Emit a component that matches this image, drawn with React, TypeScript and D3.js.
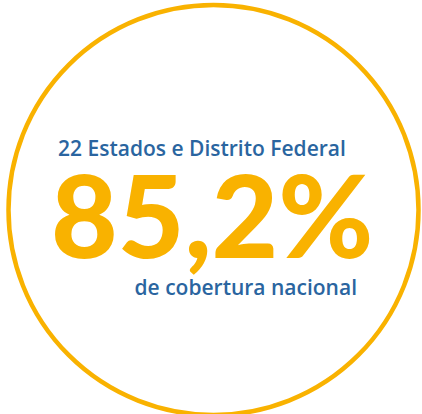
import React, { useEffect, useRef } from "react";
import * as d3 from "d3";

// valores
const coverage = [85.2];
const topLabels = ["22 Estados e Distrito Federal"];
const bottomLabels = ["de cobertura nacional"];

const YELLOW = "#F9B200";
const BLUE = "#2A65A0";

export default function App() {
  const svgRef = useRef<SVGSVGElement>(null);

  useEffect(() => {
    const width = 422;
    const height = 414;

    d3.select(svgRef.current).selectAll("*").remove();

    const svg = d3.select(svgRef.current)
      .attr("width", width)
      .attr("height", height)
      .style("position", "absolute")
      .style("left", "0px")
      .style("top", "0px");

    // formato brasileiro: vírgula decimal
    const pt = d3.formatLocale({ decimal: ",", thousands: ".", grouping: [3], currency: ["R$", ""] });
    const fmt = pt.format(".1f");

    // escala do círculo (0..100%)
    const r = d3.scaleLinear().domain([0, 100]).range([0, 205]);
    const cx = 213.5;
    const cy = 210;

    svg.append("circle")
      .attr("cx", cx)
      .attr("cy", cy)
      .attr("r", r(100))
      .attr("fill", "white")
      .attr("stroke", YELLOW)
      .attr("stroke-width", 4.5);

    svg.selectAll(".top-label")
      .data(topLabels)
      .enter()
      .append("text")
      .attr("class", "top-label")
      .attr("x", 58)
      .attr("y", 156)
      .attr("font-family", "'Open Sans', sans-serif")
      .attr("font-weight", 600)
      .attr("font-size", "21px")
      .attr("fill", BLUE)
      .text(d => d);

    svg.selectAll(".value")
      .data(coverage)
      .enter()
      .append("text")
      .attr("class", "value")
      .attr("x", 51)
      .attr("y", 258)
      .attr("font-family", "Lato, sans-serif")
      .attr("font-weight", 900)
      .attr("font-size", "115px")
      .attr("fill", YELLOW)
      .text(d => fmt(d) + "%");

    svg.selectAll(".bottom-label")
      .data(bottomLabels)
      .enter()
      .append("text")
      .attr("class", "bottom-label")
      .attr("x", 357)
      .attr("y", 295)
      .attr("text-anchor", "end")
      .attr("font-family", "'Open Sans', sans-serif")
      .attr("font-weight", 600)
      .attr("font-size", "21px")
      .attr("fill", BLUE)
      .text(d => d);
  }, []);

  return <svg ref={svgRef}></svg>;
}
